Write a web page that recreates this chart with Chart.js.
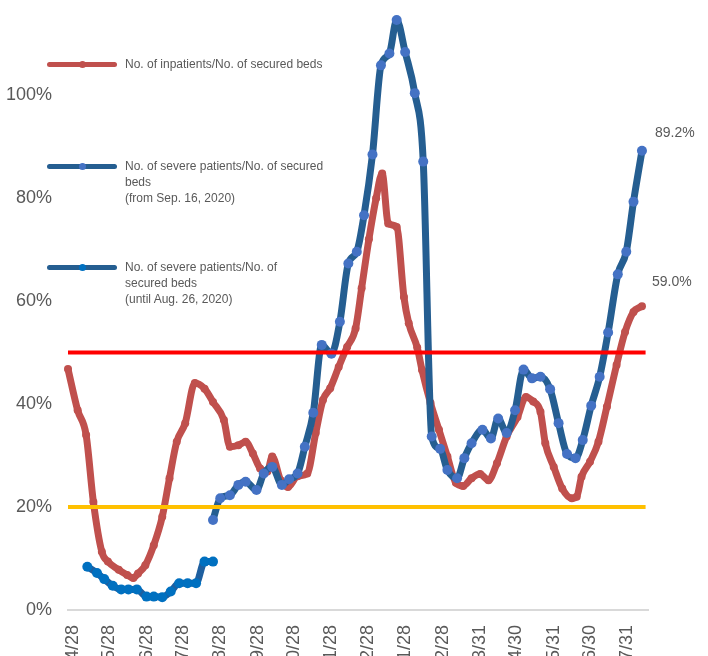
<!DOCTYPE html>
<html>
<head>
<meta charset="utf-8">
<script src="https://cdn.jsdelivr.net/npm/chart.js@4.4.0/dist/chart.umd.min.js"></script>
<style>
  html, body { margin: 0; padding: 0; background: #fff; overflow: hidden; }
  #wrap { position: relative; width: 708px; height: 710px; }
  #legend { position: absolute; left: 0; top: 0; font-family: "Liberation Sans", Arial, sans-serif; font-size: 12px; color: #595959; }
  .item { position: absolute; left: 47px; }
  .mark { position: absolute; left: 0; top: -2px; width: 70px; height: 5px; border-radius: 3px; }
  .dot { position: absolute; left: 32px; top: -3px; width: 7px; height: 7px; border-radius: 50%; }
  .txt { position: absolute; left: 78px; top: -8px; white-space: nowrap; line-height: 16px; }
</style>
</head>
<body>
<div id="wrap">
  <canvas id="chart"></canvas>
  <div id="legend"></div>
</div>
<script>
// x values are days counted from 2020/4/28
const tickDays = [0, 30, 61, 91, 122, 153, 183, 214, 244, 275, 306, 337, 367, 398, 428, 459];
const tickLabels = ['2020/4/28', '2020/5/28', '2020/6/28', '2020/7/28', '2020/8/28', '2020/9/28',
  '2020/10/28', '2020/11/28', '2020/12/28', '2021/1/28', '2021/2/28', '2021/3/31',
  '2021/4/30', '2021/5/31', '2021/6/30', '2021/7/31'];
const yTicks = [0, 20, 40, 60, 80, 100];

const seriesNames = [
  'No. of inpatients/No. of secured beds',
  'No. of severe patients/No. of secured\nbeds\n(from Sep. 16, 2020)',
  'No. of severe patients/No. of\nsecured beds\n(until Aug. 26, 2020)'
];

const inpatientDays = [-4, 4, 11, 17, 24, 29, 38, 45, 50, 54, 60, 67, 74, 80, 86, 93, 101, 109, 116, 125,
  130, 137, 143, 149, 155, 161, 165, 172, 178, 186, 194, 201, 207, 213, 220, 227, 234, 239, 245, 251,
  256, 261, 268, 274, 278, 285, 289, 296, 303, 310, 317, 323, 330, 337, 344, 351, 359, 368, 375, 381,
  387, 391, 398, 405, 413, 417, 421, 428, 435, 442, 450, 457, 464, 471];
const inpatientValues = [46.8, 38.8, 34.0, 21, 11.3, 9.4, 7.8, 6.8, 6.2, 7.1, 8.7, 12.6, 18.1, 25.6, 32.7, 36.3, 44.1, 43.0, 40.4, 36.9,
  31.7, 32.0, 32.7, 30.4, 27.5, 26.9, 29.8, 25.2, 23.9, 26, 26.5, 34.4, 40.8, 43.1, 47.2, 51.1, 54.7, 62.5, 72, 80,
  84.8, 75.1, 74.4, 60.8, 55.7, 51, 46.6, 40.2, 35, 29.8, 24.7, 24.1, 25.6, 26.4, 25.2, 28.5, 33.7, 37.5, 41.4, 40.5,
  38.5, 32.4, 27.8, 23.6, 21.7, 22.0, 25.9, 28.8, 32.7, 39.5, 47.6, 54.0, 57.9, 59.0];

const severeNewDays = [116, 122, 130, 137, 143, 152, 158, 165, 173, 179, 186, 192, 199, 206, 214, 221, 228, 235, 241, 248,
  255, 262, 268, 275, 283, 290, 297, 304, 310, 318, 324, 330, 339, 346, 352, 359, 366, 373, 380, 387,
  395, 402, 409, 416, 422, 429, 436, 443, 451, 458, 464, 471];
const severeNewValues = [17.5, 21.7, 22.3, 24.3, 24.9, 23.3, 26.5, 27.8, 24.3, 25.4, 26.5, 31.7, 38.3, 51.5, 49.8, 56, 67.3, 69.6, 76.7, 88.5,
  105.8, 108.1, 114.6, 108.4, 100.4, 87.1, 33.7, 31.3, 27.2, 25.6, 29.5, 32.4, 35.0, 33.3, 37.2, 34.4, 38.8, 46.7, 45.0, 45.3,
  42.9, 36.3, 30.3, 29.5, 33.0, 39.7, 45.3, 53.9, 65.2, 69.6, 79.3, 89.2];

const severeOldDays = [12, 20, 26, 33, 40, 46, 53, 61, 67, 74, 81, 88, 95, 102, 109, 116];
const severeOldValues = [8.4, 7.2, 6.0, 4.7, 4.0, 4.0, 4.0, 2.6, 2.6, 2.5, 3.6, 5.2, 5.2, 5.2, 9.4, 9.4];

const thresholdDays = [-4, 474];
const upperThreshold = 50;
const lowerThreshold = 20;

const pts = (days, vals) => days.map((d, i) => ({ x: d, y: vals[i] }));

const fontFamily = '"Liberation Sans", Arial, sans-serif';

// legend (html, multi-line labels)
const legendY = [64, 166, 267];
const legendLine = ['#C0504D', '#255E91', '#255E91'];
const legendDot = ['#C0504D', '#4472C4', '#0070C0'];
const legendEl = document.getElementById('legend');
seriesNames.forEach((name, i) => {
  const item = document.createElement('div');
  item.className = 'item';
  item.style.top = legendY[i] + 'px';
  item.innerHTML = '<div class="mark" style="background:' + legendLine[i] + '"></div>' +
    '<div class="dot" style="background:' + legendDot[i] + '"></div>' +
    '<div class="txt">' + name.split('\n').join('<br>') + '</div>';
  legendEl.appendChild(item);
});

// value label next to the last point of a series
const endLabels = {
  id: 'endLabels',
  afterDatasetsDraw(chart) {
    const ctx = chart.ctx;
    [[2, 13, -18], [4, 10, -24]].forEach(([idx, dx, dy]) => {
      const meta = chart.getDatasetMeta(idx);
      const data = chart.data.datasets[idx].data;
      const el = meta.data[meta.data.length - 1];
      ctx.save();
      ctx.font = '14px ' + fontFamily;
      ctx.fillStyle = '#595959';
      ctx.textAlign = 'left';
      ctx.textBaseline = 'middle';
      ctx.fillText(data[data.length - 1].y.toFixed(1) + '%', el.x + dx, el.y + dy);
      ctx.restore();
    });
  }
};

new Chart(document.getElementById('chart'), {
  type: 'line',
  data: {
    datasets: [
      { label: 'upper', data: pts(thresholdDays, [upperThreshold, upperThreshold]), borderColor: '#FF0000', borderWidth: 4, pointRadius: 0, clip: 8 },
      { label: 'lower', data: pts(thresholdDays, [lowerThreshold, lowerThreshold]), borderColor: '#FFC000', borderWidth: 4, pointRadius: 0, clip: 8 },
      { label: seriesNames[1], data: pts(severeNewDays, severeNewValues), borderColor: '#255E91', borderWidth: 7,
        pointRadius: 5, pointBackgroundColor: '#4472C4', pointBorderWidth: 0, cubicInterpolationMode: 'monotone', clip: 8 },
      { label: seriesNames[2], data: pts(severeOldDays, severeOldValues), borderColor: '#1F5F9F', borderWidth: 7,
        pointRadius: 5, pointBackgroundColor: '#0070C0', pointBorderWidth: 0, cubicInterpolationMode: 'monotone', clip: 8 },
      { label: seriesNames[0], data: pts(inpatientDays, inpatientValues), borderColor: '#C0504D', borderWidth: 7,
        pointRadius: 4, pointBackgroundColor: '#C0504D', pointBorderWidth: 0, cubicInterpolationMode: 'monotone', clip: 8 }
    ]
  },
  options: {
    responsive: true,
    maintainAspectRatio: false,
    animation: false,
    layout: { padding: { top: 18, right: 60, left: 0, bottom: 0 } },
    plugins: { legend: { display: false }, tooltip: { enabled: false } },
    scales: {
      x: {
        type: 'linear',
        min: -4,
        max: 476,
        afterBuildTicks: (scale) => { scale.ticks = tickDays.map(v => ({ value: v })); },
        afterFit: (scale) => { scale.height = 100; scale.paddingLeft = 0; scale.paddingRight = 0; },
        grid: { display: false, drawTicks: false },
        border: { display: true, color: '#D9D9D9', width: 2 },
        ticks: {
          autoSkip: false, minRotation: 90, maxRotation: 90, padding: 15,
          color: '#595959', font: { family: fontFamily, size: 18 },
          callback: (v, i) => tickLabels[i]
        }
      },
      y: {
        min: 0,
        max: 115,
        afterBuildTicks: (scale) => { scale.ticks = yTicks.map(v => ({ value: v })); },
        afterFit: (scale) => { scale.width = 68; scale.paddingTop = 0; scale.paddingBottom = 0; },
        grid: { display: false, drawTicks: false },
        border: { display: false },
        ticks: {
          padding: 16, color: '#595959', font: { family: fontFamily, size: 18 },
          callback: (v) => v + '%'
        }
      }
    }
  },
  plugins: [endLabels]
});
</script>
</body>
</html>
